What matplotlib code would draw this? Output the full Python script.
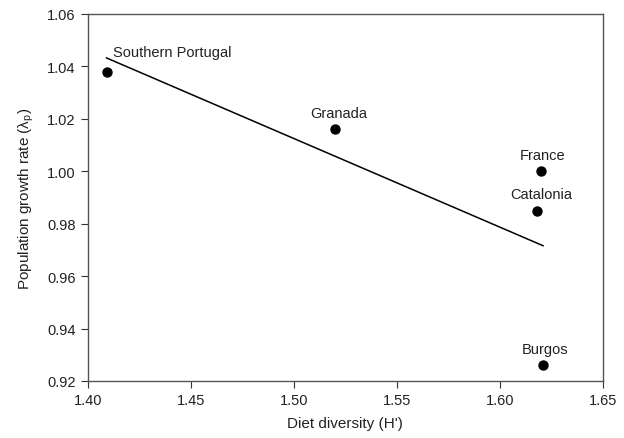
import matplotlib
matplotlib.use('Agg')
import matplotlib.pyplot as plt
import numpy as np

plt.rcParams['font.family'] = 'Liberation Sans'
plt.rcParams['mathtext.fontset'] = 'custom'
plt.rcParams['mathtext.rm'] = 'Liberation Sans'
plt.rcParams['mathtext.it'] = 'Liberation Sans:italic'

# data
sites = ['Southern Portugal', 'Granada', 'France', 'Catalonia', 'Burgos']
diversity = [1.409, 1.520, 1.620, 1.618, 1.621]
growth = [1.038, 1.016, 1.000, 0.985, 0.926]

# label offsets in points (dx, dy)
offsets = [(5, 11), (-18, 9), (-15, 9), (-19, 9), (-15, 9)]

fig = plt.figure(figsize=(6.24, 4.39), dpi=100)
ax = fig.add_axes([0.141, 0.130, 0.825, 0.836])

ax.scatter(diversity, growth, s=42, color='black', zorder=3)

# linear regression line over the data range
slope, icpt = np.polyfit(diversity, growth, 1)
xl = np.array([min(diversity), max(diversity)])
ax.plot(xl, slope * xl + icpt, color='black', lw=1.1)

for name, x, y, (dx, dy) in zip(sites, diversity, growth, offsets):
    ax.annotate(name, (x, y), xytext=(dx, dy), textcoords='offset points',
                fontsize=10.5, color='#222222')

ax.set_xlim(1.40, 1.65)
ax.set_ylim(0.92, 1.06)
ax.set_xticks(np.arange(1.40, 1.651, 0.05))
ax.set_yticks(np.arange(0.92, 1.061, 0.02))
ax.xaxis.set_major_formatter(matplotlib.ticker.FormatStrFormatter('%.2f'))
ax.yaxis.set_major_formatter(matplotlib.ticker.FormatStrFormatter('%.2f'))
ax.tick_params(direction='out', length=5, labelsize=10.5, colors='#333333',
               labelcolor='#222222', pad=4)
for s in ax.spines.values():
    s.set_color('#555555')
    s.set_linewidth(1.0)

ax.set_xlabel("Diet diversity (H')", fontsize=11, color='#222222', labelpad=6)
ax.set_ylabel(r'Population growth rate ($\mathrm{\lambda}_\mathrm{p}$)', fontsize=11,
              color='#222222', labelpad=8)

plt.savefig('out.png', dpi=100)
